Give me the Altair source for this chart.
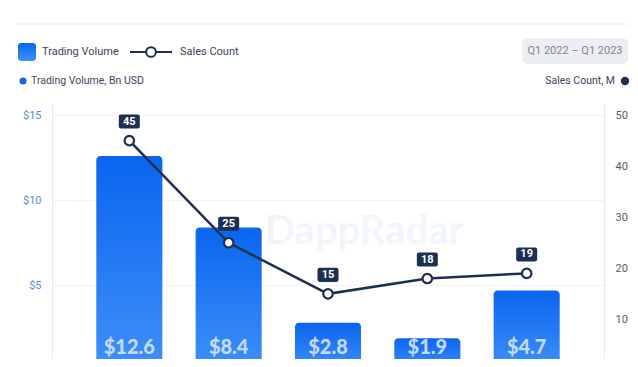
import altair as alt
import pandas as pd

# ---- data ----
quarters = ["Q1 2022", "Q2 2022", "Q3 2022", "Q4 2022", "Q1 2023"]
volume_bn = [12.6, 8.4, 2.8, 1.9, 4.7]
sales_m = [45, 25, 15, 18, 19]
volume_labels = ["$12.6", "$8.4", "$2.8", "$1.9", "$4.7"]
left_ticks = [5, 10, 15]
right_ticks = [10, 20, 30, 40, 50]

df = pd.DataFrame({"quarter": quarters, "volume": volume_bn,
                   "sales": sales_m, "vlabel": volume_labels})
one = pd.DataFrame({"a": [0]})

NAVY = "#1d2f52"
FONT = "Roboto"
BOX = ("M-0.8,-0.67 L0.8,-0.67 Q1,-0.67 1,-0.47 L1,0.47 Q1,0.67 0.8,0.67 "
       "L-0.8,0.67 Q-1,0.67 -1,0.47 L-1,-0.47 Q-1,-0.67 -0.8,-0.67 Z")

bar_grad = alt.Gradient(gradient="linear", x1=0, x2=0, y1=0, y2=1,
                        stops=[alt.GradientStop(color="#0a65f0", offset=0),
                               alt.GradientStop(color="#3f90f6", offset=1)])

xenc = alt.X("quarter:N", sort=quarters, axis=None,
             scale=alt.Scale(paddingInner=0.335, paddingOuter=0.446))

left_scale = alt.Scale(domain=[0.675, 15.705], nice=False, zero=False)
right_scale = alt.Scale(domain=[2.25, 52.35], nice=False, zero=False)

base = alt.Chart(df)

bars = base.mark_bar(cornerRadiusTopLeft=4, cornerRadiusTopRight=4,
                     fill=bar_grad, clip=True).encode(
    x=xenc,
    y=alt.Y("volume:Q", scale=left_scale,
            axis=alt.Axis(orient="left", values=left_ticks,
                          labelExpr="'$' + datum.value", title=None,
                          ticks=False, grid=True, gridColor="#f0f2f5",
                          domainColor="#e6e8ec", labelColor="#5b8ed6",
                          labelFont=FONT, labelFontSize=11, labelPadding=11)),
    y2=alt.datum(0),
)

bar_text = base.mark_text(font="Lato", fontWeight=900, fontSize=20,
                          color="#d3e3fc", opacity=0.9, baseline="middle").encode(
    x=xenc, y=alt.value(245), text="vlabel:N")

left_layer = alt.layer(bars, bar_text)

yr = alt.Y("sales:Q", scale=right_scale,
           axis=alt.Axis(orient="right", values=right_ticks, title=None,
                         ticks=False, grid=False, domainColor="#e6e8ec",
                         labelColor="#545e6c", labelFont=FONT,
                         labelFontSize=11, labelPadding=11))

line = base.mark_line(color=NAVY, strokeWidth=2.5).encode(x=xenc, y=yr)
pts = base.mark_point(filled=True, fill="white", stroke=NAVY, strokeWidth=2.2,
                      size=90, opacity=1).encode(x=xenc, y=yr)
boxes = base.mark_point(shape=BOX, filled=True, fill=NAVY, size=441,
                        opacity=1, yOffset=-19).encode(x=xenc, y=yr)
box_text = base.mark_text(color="white", fontWeight="bold", fontSize=11,
                          font=FONT, yOffset=-19, baseline="middle").encode(
    x=xenc, y=yr, text="sales:Q")

right_layer = alt.layer(line, pts, boxes, box_text)

# ---- header / decorations (plot-local pixel positions) ----
h = alt.Chart(one)

watermark = h.mark_text(text="DappRadar", font="Lato", fontWeight="bold",
                        fontSize=40, color="#f2f5fa", align="center",
                        baseline="middle").encode(x=alt.value(312), y=alt.value(129))

rule_top = h.mark_rule(color="#e8eaee", strokeWidth=1).encode(
    x=alt.value(-37), x2=alt.value(576), y=alt.value(-79))

leg_sq = h.mark_rect(cornerRadius=3, fill=bar_grad).encode(
    x=alt.value(-34), x2=alt.value(-16), y=alt.value(-60), y2=alt.value(-42))
leg_t1 = h.mark_text(text="Trading Volume", font=FONT, fontSize=11,
                     color="#3b4455", align="left", baseline="middle").encode(
    x=alt.value(-10), y=alt.value(-51))
leg_line = h.mark_rule(color=NAVY, strokeWidth=2).encode(
    x=alt.value(78), x2=alt.value(120), y=alt.value(-51))
leg_pt = h.mark_point(filled=True, fill="white", stroke=NAVY, strokeWidth=2,
                      size=95, opacity=1).encode(x=alt.value(99), y=alt.value(-51))
leg_t2 = h.mark_text(text="Sales Count", font=FONT, fontSize=11,
                     color="#3b4455", align="left", baseline="middle").encode(
    x=alt.value(128), y=alt.value(-51))

pill = h.mark_rect(cornerRadius=6, fill="#eceef1").encode(
    x=alt.value(470), x2=alt.value(576), y=alt.value(-65), y2=alt.value(-39))
pill_t = h.mark_text(text="Q1 2022 – Q1 2023", font=FONT, fontSize=11,
                     color="#7b8696", align="center", baseline="middle").encode(
    x=alt.value(523), y=alt.value(-52))

dot_l = h.mark_point(filled=True, color="#1767e8", size=50, opacity=1).encode(
    x=alt.value(-29), y=alt.value(-22))
sub_l = h.mark_text(text="Trading Volume, Bn USD", font=FONT, fontSize=10.5,
                    color="#3a4660", align="left", baseline="middle").encode(
    x=alt.value(-21), y=alt.value(-22))
sub_r = h.mark_text(text="Sales Count, M", font=FONT, fontSize=10.5,
                    color="#3a4660", align="right", baseline="middle").encode(
    x=alt.value(563), y=alt.value(-22))
dot_r = h.mark_point(filled=True, color=NAVY, size=70, opacity=1).encode(
    x=alt.value(573), y=alt.value(-22))

chart = alt.layer(
    watermark, rule_top, leg_sq, leg_t1, leg_line, leg_pt, leg_t2,
    pill, pill_t, dot_l, sub_l, sub_r, dot_r,
    left_layer, right_layer,
).resolve_scale(y="independent").properties(
    width=552, height=256,
    padding={"left": 44, "top": 95, "right": 26, "bottom": 0},
    autosize=alt.AutoSizeParams(type="none"),
    background="white",
).configure_view(stroke=None)

chart.save("out.html", embed_options={"renderer": "svg", "actions": False})
